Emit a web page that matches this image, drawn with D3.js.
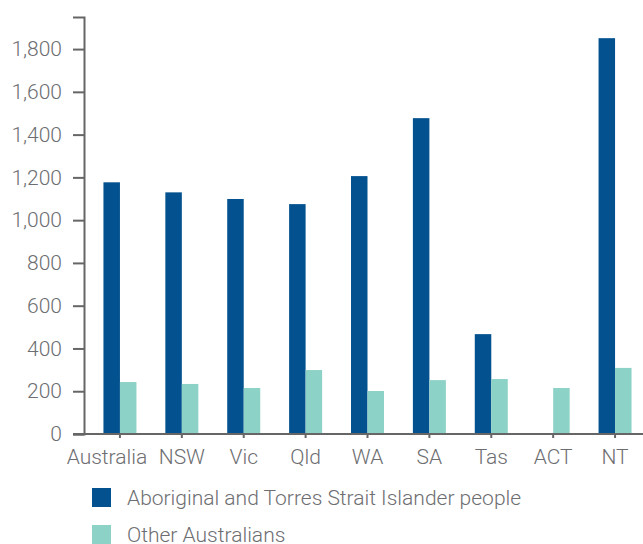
<!DOCTYPE html>
<html>
<head>
<meta charset="utf-8">
<script src="https://cdn.jsdelivr.net/npm/d3@7"></script>
<style>
  html, body { margin: 0; padding: 0; background: #fff; }
  svg { display: block; }
  text { font-family: Roboto, "Liberation Sans", Arial, sans-serif; font-weight: 300; fill: #6d6e71; }
</style>
</head>
<body>
<svg id="chart" width="643" height="544"></svg>
<script>
// Rates by jurisdiction
const categories = ["Australia", "NSW", "Vic", "Qld", "WA", "SA", "Tas", "ACT", "NT"];
const seriesNames = ["Aboriginal and Torres Strait Islander people", "Other Australians"];
const indigenousValues = [1177, 1130, 1099, 1075, 1206, 1477, 467, null, 1851];
const otherValues = [243, 234, 215, 299, 201, 252, 257, 215, 309];
const yTicks = [0, 200, 400, 600, 800, 1000, 1200, 1400, 1600, 1800];
const colors = ["#03528f", "#8dd2c6"];

const svg = d3.select("#chart");
const axisX = 84, baseY = 434, topY = 17;
const fontSize = "21px";
const fontFamily = "Roboto, 'Liberation Sans', Arial, sans-serif";

const y = d3.scaleLinear().domain([0, 1950]).range([baseY, topY]);
const x = d3.scaleBand().domain(categories).range([89, 646]).paddingInner(0).paddingOuter(0);
const xs = d3.scaleBand().domain(seriesNames).range([-16.5, 16.5]);

const rows = categories.map((c, i) => ({ cat: c, vals: [indigenousValues[i], otherValues[i]] }));

// Bars
const groups = svg.append("g").selectAll("g").data(rows).join("g")
  .attr("transform", d => `translate(${x(d.cat) + x.bandwidth() / 2},0)`);
groups.selectAll("rect")
  .data(d => d.vals.map((v, k) => ({ v, k })).filter(e => e.v != null))
  .join("rect")
  .attr("x", e => xs(seriesNames[e.k]))
  .attr("width", xs.bandwidth())
  .attr("y", e => y(e.v))
  .attr("height", e => baseY - y(e.v))
  .attr("fill", e => colors[e.k]);

// Y axis
const yAxis = svg.append("g").attr("transform", `translate(${axisX},0)`)
  .call(d3.axisLeft(y).tickValues(yTicks).tickFormat(d3.format(",")).tickSize(11).tickSizeOuter(11).tickPadding(11));
yAxis.select(".domain").attr("stroke", "#666").attr("stroke-width", 2);
yAxis.selectAll(".tick line").attr("stroke", "#666").attr("stroke-width", 2);
yAxis.selectAll(".tick text").attr("fill", "#6d6e71").style("font-size", fontSize)
  .style("font-family", fontFamily).style("font-weight", 300);

// X axis
const xAxis = svg.append("g").attr("transform", `translate(0,${baseY})`)
  .call(d3.axisBottom(x).tickSize(4).tickSizeOuter(0));
xAxis.select(".domain").attr("d", `M${axisX - 11},0H643`).attr("stroke", "#666").attr("stroke-width", 2);
xAxis.selectAll(".tick line").attr("stroke", "#666").attr("stroke-width", 2);
xAxis.selectAll(".tick text").attr("y", 30).attr("dy", 0).attr("fill", "#6d6e71")
  .attr("dx", (d, i) => i === 0 ? -13 : 0)  // nudge the long first label clear of its neighbour
  .style("font-size", fontSize).style("font-family", fontFamily).style("font-weight", 300);

// Legend
const legend = svg.append("g").selectAll("g").data(seriesNames).join("g")
  .attr("transform", (d, i) => `translate(92,${488 + i * 37})`);
legend.append("rect").attr("width", 19).attr("height", 19).attr("fill", (d, i) => colors[i]);
legend.append("text").attr("x", 35).attr("y", 17).style("font-size", fontSize).text(d => d);
</script>
</body>
</html>
